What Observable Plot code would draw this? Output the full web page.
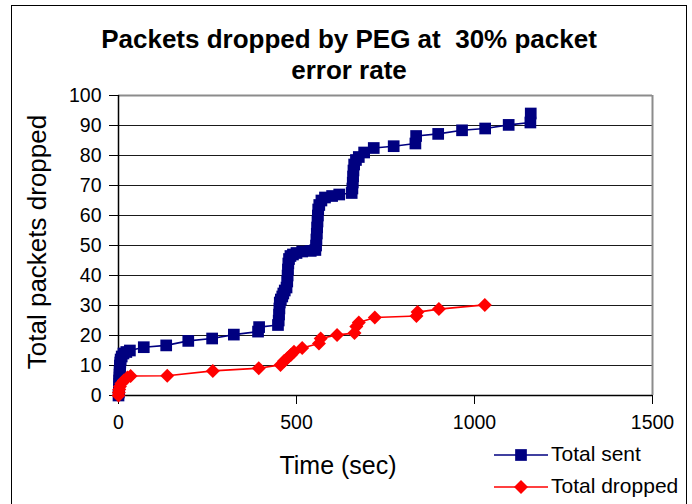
<!DOCTYPE html>
<html><head><meta charset="utf-8">
<script src="https://cdn.jsdelivr.net/npm/d3@7"></script>
<script src="https://cdn.jsdelivr.net/npm/@observablehq/plot@0.6"></script>
<style>
body{margin:0;background:#fff;}
#wrap{position:relative;width:692px;height:504px;overflow:hidden;font-family:"Liberation Sans",Arial,sans-serif;background:#fff;}
#wrap svg.plot{position:absolute;left:0;top:0;}
.t{position:absolute;white-space:nowrap;color:#000;}
#border{position:absolute;left:11px;top:5px;width:676px;height:520px;border:1px solid #000;box-sizing:border-box;}
</style></head><body><div id="wrap"><div id="border"></div></div>
<script>
// ---- data ----
const titleLines = ["Packets dropped by PEG at\u00a0 30% packet", "error rate"];
const xLabel = "Time (sec)";
const yLabel = "Total packets dropped";
const seriesNames = ["Total sent", "Total dropped"];
const xTicks = [0, 500, 1000, 1500];
const yTicks = [0, 10, 20, 30, 40, 50, 60, 70, 80, 90, 100];

const sentTime  = [0,1,1,2,2,2,3,3,3,4,4,5,6,9,14,22,32,71,134,196,263,324,392,395,
  448,450,451,452,453,456,460,463,467,472,474,475,476,477,479,483,490,500,516,540,
  553,555,556,557,558,559,560,561,564,570,580,600,620,
  655,657,658,659,660,662,667,675,690,717,773,834,836,898,965,1030,1096,1157,1158];
const sentCount = [0,1,2,3,4,5,6,7,8,9,10,11,12,13,14,14.5,15,16.1,16.7,18.2,19,20.3,21.3,22.8,
  23.5,25,27,29,31,32,33,34,35,36,38,40,42,44,45.5,46.5,47,47.5,48,48.2,
  48.5,50,52,54,56,58,60,62,63.5,65,66,66.5,67,
  67.5,69,71,73,75,77,78.5,79.5,81,82.5,83.1,84,86.5,87.2,88.4,89,90.2,91,94];

const dropTime  = [0,1,2,4,8,15,25,34,137,265,394,455,465,474,484,493,516,563,568,614,663,668,675,720,837,840,900,1029];
const dropCount = [0,1,2,3,4,5,6,6.5,6.6,8.2,9.1,10.2,11.5,12.4,13.5,14.6,15.8,17.3,19,20.2,20.8,23,24.3,26,26.5,27.8,28.8,30.2];

const colors = ["#000080", "#ff0000"];

const sent = sentTime.map((t, i) => ({t, v: sentCount[i]}));
const dropped = dropTime.map((t, i) => ({t, v: dropCount[i]}));

const W = 692, H = 504;
const chart = Plot.plot({
  width: W, height: H,
  marginLeft: 118, marginRight: 40, marginTop: 95, marginBottom: 109,
  x: {domain: [0, 1500]},
  y: {domain: [0, 100]},
  style: {fontFamily: "'Liberation Sans', Arial, sans-serif", fontSize: "19.5px", color: "#000", background: "transparent"},
  marks: [
    Plot.ruleY(yTicks.filter(d => d > 0 && d < 100), {stroke: "#1a1a1a", strokeWidth: 1.2}),
    Plot.ruleY([100], {stroke: "#8c8c8c", strokeWidth: 2}),
    Plot.ruleX([1500], {stroke: "#8c8c8c", strokeWidth: 2}),
    Plot.ruleX([0], {stroke: "#000", strokeWidth: 1.5}),
    Plot.ruleY([0], {stroke: "#000", strokeWidth: 1.5}),
    Plot.axisY(yTicks, {tickSize: 9, tickPadding: 8, fontSize: 19.5, label: null, stroke: "#000", tickFormat: d3.format("d")}),
    Plot.axisX(xTicks, {tickSize: 9, tickPadding: 11, fontSize: 19.5, label: null, stroke: "#000", tickFormat: d3.format("d")}),
    Plot.line(sent, {x: "t", y: "v", stroke: colors[0], strokeWidth: 1.6}),
    Plot.dot(sent, {x: "t", y: "v", symbol: "square", r: 6.6, fill: colors[0], stroke: "none"}),
    Plot.line(dropped, {x: "t", y: "v", stroke: colors[1], strokeWidth: 1.6}),
    Plot.dot(dropped, {x: "t", y: "v", symbol: "diamond2", r: 6.3, fill: colors[1], stroke: "none"})
  ]
});
chart.classList.add("plot");
const wrap = document.getElementById("wrap");
wrap.insertBefore(chart, wrap.firstChild);

function addText(txt, css) {
  const d = document.createElement("div");
  d.className = "t";
  d.textContent = txt;
  Object.assign(d.style, css);
  wrap.appendChild(d);
  return d;
}
// title
addText(titleLines[0], {left: "11px", width: "676px", top: "24px", textAlign: "center", fontWeight: "bold", fontSize: "26px", lineHeight: "31px"});
addText(titleLines[1], {left: "11px", width: "676px", top: "55px", textAlign: "center", fontWeight: "bold", fontSize: "26px", lineHeight: "31px"});
// axis titles
addText(xLabel, {left: "238px", width: "200px", top: "451px", textAlign: "center", fontSize: "25px", lineHeight: "28px"});
addText(yLabel, {left: "-113px", width: "300px", top: "228px", textAlign: "center", fontSize: "26px", lineHeight: "28px", transform: "rotate(-90deg)"});

// legend
seriesNames.forEach((name, i) => {
  const top = 443 + i * 32;
  const s = d3.create("svg").attr("width", 56).attr("height", 24)
    .style("position", "absolute").style("left", "493px").style("top", top + "px");
  s.append("line").attr("x1", 1).attr("x2", 55).attr("y1", 12).attr("y2", 12)
    .attr("stroke", colors[i]).attr("stroke-width", 1.6);
  s.append("path").attr("transform", "translate(28,12)")
    .attr("d", d3.symbol(i === 0 ? d3.symbolSquare : d3.symbolDiamond2, i === 0 ? 137 : 125)())
    .attr("fill", colors[i]);
  wrap.appendChild(s.node());
  addText(name, {left: "551px", top: (top - 2) + "px", fontSize: "21px", lineHeight: "26px"});
});
</script></body></html>
